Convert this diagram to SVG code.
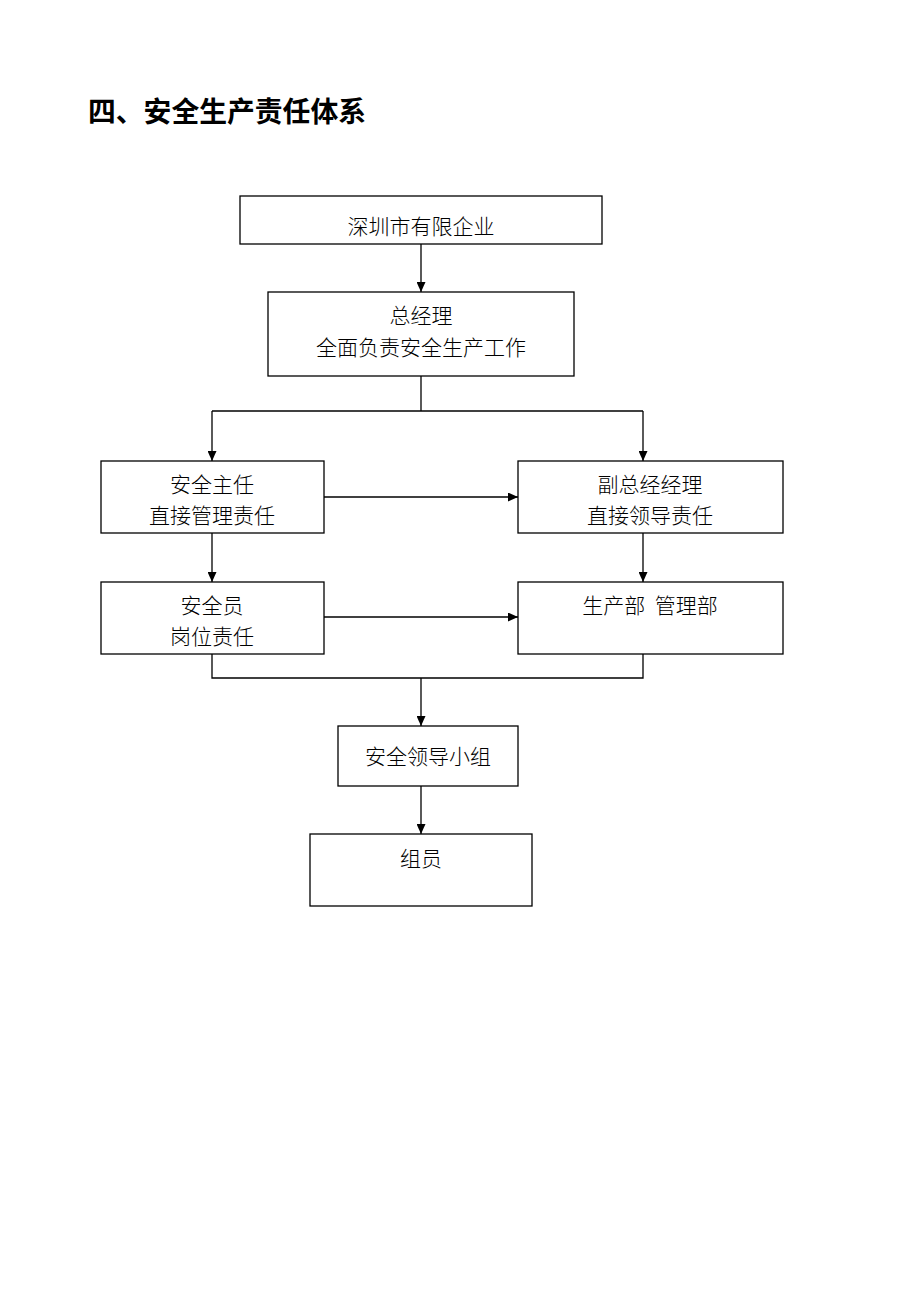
<svg xmlns="http://www.w3.org/2000/svg" width="920" height="1302" viewBox="0 0 920 1302">
<style>
.box{fill:#fff;stroke:#000;stroke-width:1.3}
.t{font-family:"Noto Sans CJK SC","Noto Sans CJK JP",sans-serif;font-size:21px;font-weight:300;fill:#000;text-anchor:middle}
.title{font-family:"Noto Sans CJK SC","Noto Sans CJK JP",sans-serif;font-size:28px;font-weight:bold;fill:#000}
.c{fill:none;stroke:#000;stroke-width:1.3}
</style>
<defs>
<marker id="ah" viewBox="0 0 10 10" refX="10" refY="5" markerWidth="10" markerHeight="9" markerUnits="userSpaceOnUse" orient="auto" preserveAspectRatio="none">
<path d="M0,0 L10,5 L0,10 z" fill="#000"/>
</marker>
</defs>
<rect width="920" height="1302" fill="#fff"/>
<text class="title" x="88" y="122" textLength="278" lengthAdjust="spacingAndGlyphs">四、安全生产责任体系</text>
<g id="connectors">
<path class="c" d="M421,244 V292" marker-end="url(#ah)"/>
<path class="c" d="M421,376 V411"/>
<path class="c" d="M212,411 H643"/>
<path class="c" d="M212,411 V461" marker-end="url(#ah)"/>
<path class="c" d="M643,411 V461" marker-end="url(#ah)"/>
<path class="c" d="M324,497 H518" marker-end="url(#ah)"/>
<path class="c" d="M212,533 V582" marker-end="url(#ah)"/>
<path class="c" d="M643,533 V582" marker-end="url(#ah)"/>
<path class="c" d="M324,617 H518" marker-end="url(#ah)"/>
<path class="c" d="M212,654 V678 H643 V654"/>
<path class="c" d="M421,678 V726" marker-end="url(#ah)"/>
<path class="c" d="M421,786 V834" marker-end="url(#ah)"/>
</g>
<g id="n1"><rect class="box" x="240" y="196" width="362" height="48"/><text class="t" x="421" y="234">深圳市有限企业</text></g>
<g id="n2"><rect class="box" x="268" y="292" width="306" height="84"/><text class="t" x="421" y="323">总经理</text><text class="t" x="421" y="355">全面负责安全生产工作</text></g>
<g id="n3"><rect class="box" x="101" y="461" width="223" height="72"/><text class="t" x="212" y="492">安全主任</text><text class="t" x="212" y="523">直接管理责任</text></g>
<g id="n4"><rect class="box" x="518" y="461" width="265" height="72"/><text class="t" x="650" y="492">副总经经理</text><text class="t" x="650" y="523">直接领导责任</text></g>
<g id="n5"><rect class="box" x="101" y="582" width="223" height="72"/><text class="t" x="212" y="613">安全员</text><text class="t" x="212" y="644">岗位责任</text></g>
<g id="n6"><rect class="box" x="518" y="582" width="265" height="72"/><text class="t" x="650" y="613" xml:space="preserve">生产部  管理部</text></g>
<g id="n7"><rect class="box" x="338" y="726" width="180" height="60"/><text class="t" x="428" y="764">安全领导小组</text></g>
<g id="n8"><rect class="box" x="310" y="834" width="222" height="72"/><text class="t" x="421" y="866">组员</text></g>
</svg>
